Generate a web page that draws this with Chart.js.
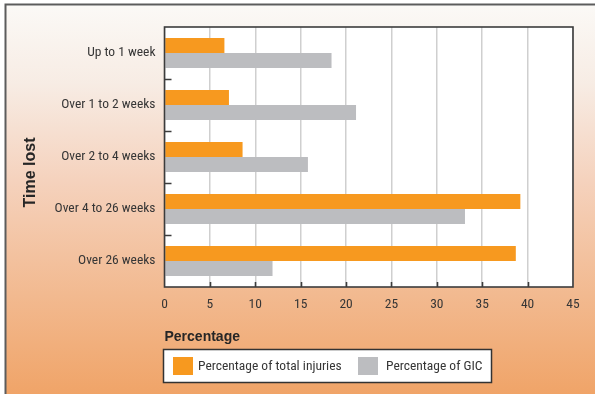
<!DOCTYPE html>
<html>
<head>
<meta charset="utf-8">
<title>Time lost</title>
<script src="https://cdn.jsdelivr.net/npm/chart.js@4"></script>
<style>
  html, body { margin: 0; padding: 0; background: #fff; }
  canvas { display: block; }
</style>
</head>
<body>
<canvas id="timeChart" width="595" height="394"></canvas>
<script>
const categories = ["Up to 1 week", "Over 1 to 2 weeks", "Over 2 to 4 weeks", "Over 4 to 26 weeks", "Over 26 weeks"];
const totalInjuries = [6.6, 7.1, 8.6, 39.2, 38.7];
const gicShare = [18.4, 21.1, 15.8, 33.1, 11.9];
const seriesNames = ["Percentage of total injuries", "Percentage of GIC"];
const seriesColors = ["#f7991f", "#bcbdc0"];
const axisMax = 45;
const axisStep = 5;

const FONT = "'Roboto Condensed', 'Liberation Sans', sans-serif";
const BOLD = "'Liberation Sans', Arial, sans-serif";
const TEXT = "#363636";

// panel background, frame, plot box and inner tick marks
const panel = {
  id: "panel",
  beforeDraw(chart) {
    const { ctx, width, height, chartArea: a } = chart;
    ctx.save();
    ctx.fillStyle = "#fff";
    ctx.fillRect(0, 0, width, height);
    const g = ctx.createLinearGradient(0, 6, 0, height);
    g.addColorStop(0, "#fbf9f6");
    g.addColorStop(0.2, "#f7ece4");
    g.addColorStop(0.45, "#f5d2bd");
    g.addColorStop(0.75, "#f2b98f");
    g.addColorStop(1, "#f0a468");
    ctx.fillStyle = g;
    ctx.fillRect(6, 6, width - 6, height - 6);
    ctx.strokeStyle = "#5c5c5c";
    ctx.lineWidth = 2;
    ctx.beginPath();
    ctx.moveTo(5.5, height);
    ctx.lineTo(5.5, 4.5);
    ctx.lineTo(width, 4.5);
    ctx.stroke();
    ctx.fillStyle = "#fff";
    ctx.fillRect(a.left, a.top, a.right - a.left, a.bottom - a.top);
    ctx.restore();
  },
  afterDraw(chart) {
    const { ctx, chartArea: a, scales: { x, y } } = chart;
    ctx.save();
    ctx.strokeStyle = "#3c3c3c";
    ctx.lineWidth = 1.6;
    // x ticks pointing into the plot
    ctx.beginPath();
    for (let v = axisStep; v < axisMax; v += axisStep) {
      const px = Math.round(x.getPixelForValue(v)) + 0.5;
      ctx.moveTo(px, a.bottom);
      ctx.lineTo(px, a.bottom - 5);
    }
    // y ticks between categories
    for (let i = 0; i < categories.length - 1; i++) {
      const py = Math.round((y.getPixelForValue(i) + y.getPixelForValue(i + 1)) / 2) + 0.5;
      ctx.moveTo(a.left, py);
      ctx.lineTo(a.left + 7, py);
    }
    ctx.stroke();
    ctx.strokeRect(a.left, a.top, a.right - a.left, a.bottom - a.top);

    // vertical axis title
    ctx.fillStyle = "#262626";
    ctx.font = "bold 16px " + BOLD;
    ctx.textAlign = "center";
    ctx.textBaseline = "middle";
    ctx.translate(30.5, 172.5);
    ctx.rotate(-Math.PI / 2);
    ctx.fillText("Time lost", 0, 0);
    ctx.restore();

    // legend box
    ctx.save();
    ctx.fillStyle = "#fff";
    ctx.fillRect(163.5, 349.5, 328, 33);
    ctx.strokeStyle = "#333";
    ctx.lineWidth = 1.5;
    ctx.strokeRect(163.5, 349.5, 328, 33);
    const items = [
      { x: 173, tx: 198 },
      { x: 358, tx: 386 }
    ];
    ctx.font = "13.5px " + FONT;
    ctx.textBaseline = "middle";
    ctx.textAlign = "left";
    chart.data.datasets.forEach((ds, i) => {
      ctx.fillStyle = ds.backgroundColor;
      ctx.fillRect(items[i].x, 357, 20, 18);
      ctx.fillStyle = TEXT;
      ctx.fillText(ds.label, items[i].tx, 367);
    });
    ctx.restore();
  }
};

new Chart(document.getElementById("timeChart"), {
  type: "bar",
  data: {
    labels: categories,
    datasets: [
      { label: seriesNames[0], data: totalInjuries, backgroundColor: seriesColors[0] },
      { label: seriesNames[1], data: gicShare, backgroundColor: seriesColors[1] }
    ]
  },
  options: {
    indexAxis: "y",
    responsive: false,
    animation: false,
    layout: { padding: { left: 0, top: 27, right: 22, bottom: 0 } },
    datasets: {
      bar: { categoryPercentage: 0.58, barPercentage: 1.0, borderWidth: 0 }
    },
    scales: {
      x: {
        min: 0,
        max: axisMax,
        afterFit(scale) { scale.height = 394 - 27 - 260; },
        grid: { color: "#cfcfcf", lineWidth: 1.5, drawTicks: false },
        border: { display: false },
        ticks: {
          stepSize: axisStep,
          padding: 10,
          color: TEXT,
          font: { family: FONT, size: 13.5 }
        },
        title: {
          display: true,
          text: "Percentage",
          align: "start",
          color: "#262626",
          font: { family: BOLD, size: 14, weight: "bold" },
          padding: { top: 0, bottom: 48 }
        }
      },
      y: {
        afterFit(scale) { scale.width = 164.5; },
        grid: { display: false, drawTicks: false },
        border: { display: false },
        ticks: {
          padding: 9,
          color: TEXT,
          font: { family: FONT, size: 13.5 }
        }
      }
    },
    plugins: {
      legend: { display: false },
      tooltip: { enabled: false }
    }
  },
  plugins: [panel]
});
</script>
</body>
</html>
